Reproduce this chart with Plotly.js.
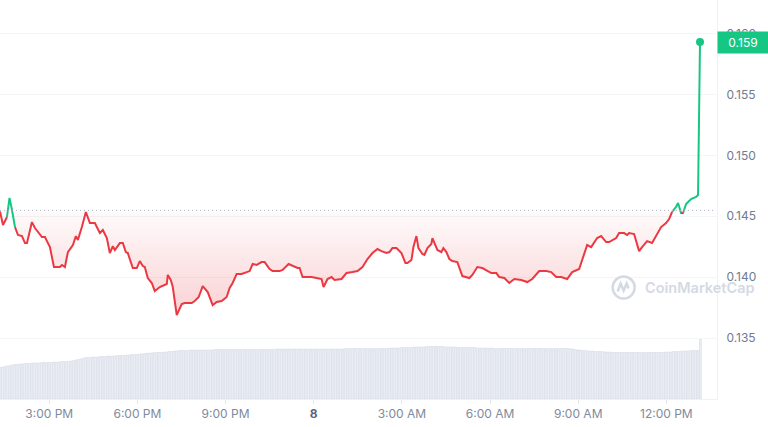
<!DOCTYPE html>
<html>
<head>
<meta charset="utf-8">
<script src="https://cdn.plot.ly/plotly-3.0.1.min.js"></script>
<style>
  html, body { margin: 0; padding: 0; background: #ffffff; }
  #chart { width: 768px; height: 427px; }
</style>
</head>
<body>
<div id="chart"></div>
<script>
// Time in hours since midnight of day 7 (24 = midnight, day 8)
const hours = [
  13.325,13.427,13.563,13.648,13.733,13.835,13.937,14.073,14.175,14.243,
  14.412,14.514,14.616,14.752,14.854,15.024,15.160,15.364,15.432,15.534,
  15.636,15.806,15.907,15.975,16.111,16.247,16.383,16.553,16.723,16.825,
  16.961,17.063,17.165,17.233,17.403,17.505,17.606,17.674,17.844,17.980,
  18.082,18.184,18.252,18.354,18.490,18.592,18.762,18.864,19.000,19.034,
  19.136,19.204,19.339,19.509,19.611,19.849,19.951,20.087,20.223,20.393,
  20.563,20.699,20.869,21.038,21.140,21.242,21.378,21.548,21.718,21.820,
  21.922,22.058,22.228,22.330,22.500,22.602,22.839,22.941,23.145,23.281,
  23.451,23.519,23.621,23.757,23.927,24.097,24.267,24.335,24.470,24.606,
  24.708,24.946,25.116,25.320,25.490,25.660,25.830,26.000,26.169,26.305,
  26.475,26.577,26.679,26.815,26.985,27.121,27.189,27.325,27.393,27.495,
  27.563,27.699,27.767,27.869,28.004,28.038,28.140,28.208,28.344,28.412,
  28.514,28.616,28.718,28.888,29.058,29.296,29.398,29.567,29.737,29.873,
  30.043,30.213,30.315,30.485,30.655,30.825,31.063,31.266,31.436,31.674,
  31.912,32.082,32.252,32.422,32.626,32.796,33.033,33.135,33.305,33.441,
  33.645,33.781,33.951,34.053,34.291,34.393,34.563,34.664,34.732,34.902,
  35.072,35.174,35.344,35.514,35.650,35.820,35.990,36.092,36.194,36.330,
  36.398,36.500,36.568,36.670,36.840,37.010,37.078,37.145
];
const prices = [
  0.14540,0.14428,0.14494,0.14650,0.14551,0.14411,0.14346,0.14337,0.14280,0.14280,
  0.14452,0.14403,0.14370,0.14329,0.14329,0.14247,0.14083,0.14083,0.14100,0.14083,
  0.14206,0.14264,0.14337,0.14305,0.14411,0.14535,0.14444,0.14444,0.14362,0.14387,
  0.14321,0.14198,0.14255,0.14223,0.14280,0.14280,0.14206,0.14198,0.14075,0.14075,
  0.14132,0.14091,0.14083,0.13993,0.13952,0.13886,0.13919,0.13927,0.13944,0.14018,
  0.13977,0.13919,0.13689,0.13779,0.13788,0.13788,0.13804,0.13837,0.13927,0.13878,
  0.13771,0.13796,0.13804,0.13837,0.13911,0.13952,0.14026,0.14026,0.14042,0.14050,
  0.14108,0.14100,0.14124,0.14124,0.14067,0.14050,0.14050,0.14059,0.14108,0.14091,
  0.14075,0.14075,0.14001,0.14001,0.14001,0.13993,0.13985,0.13919,0.13985,0.14001,
  0.13977,0.13985,0.14034,0.14042,0.14050,0.14083,0.14149,0.14198,0.14231,0.14214,
  0.14198,0.14206,0.14239,0.14239,0.14198,0.14116,0.14116,0.14141,0.14247,0.14337,
  0.14239,0.14190,0.14182,0.14239,0.14272,0.14321,0.14255,0.14223,0.14206,0.14239,
  0.14206,0.14149,0.14132,0.14124,0.14009,0.13993,0.14018,0.14083,0.14075,0.14059,
  0.14034,0.14034,0.14001,0.13993,0.13952,0.13985,0.13977,0.13960,0.13985,0.14050,
  0.14050,0.14042,0.14001,0.14001,0.13985,0.14042,0.14067,0.14141,0.14264,0.14247,
  0.14321,0.14337,0.14288,0.14288,0.14321,0.14362,0.14362,0.14346,0.14362,0.14354,
  0.14214,0.14247,0.14296,0.14280,0.14337,0.14411,0.14444,0.14477,0.14535,0.14576,
  0.14609,0.14526,0.14526,0.14600,0.14641,0.14658,0.14674,0.15930
];
const baseline = 0.14548;      // opening price (dotted reference line)
const lastLabel = "0.159";

// Volume bars (millions), 5-minute buckets
const volStart = 13.325;
const volStep = 1 / 12;
const volumes = [
  63,64,65,66,67,68,
  69,69,70,70,71,71,
  71,72,72,72,72,73,73,73,73,
  73,74,74,74,75,75,75,
  75,76,77,78,79,
  80,82,83,
  83,83,84,84,84,85,85,85,86,86,86,86,87,87,87,
  87,88,88,89,
  89,89,90,90,91,91,92,92,93,93,
  93,93,94,94,95,95,96,96,97,97,
  97,97,97,98,98,98,98,98,98,98,98,98,98,99,99,99,99,99,99,99,99,99,99,
  99,99,99,99,99,99,99,99,99,99,99,99,99,99,99,100,100,100,100,100,
  100,100,100,100,100,100,100,100,100,100,100,100,100,100,100,100,100,100,100,100,
  100,100,100,101,101,101,101,101,101,101,101,101,101,101,101,101,101,101,101,
  101,101,102,102,102,102,102,103,103,103,103,103,104,104,104,104,104,105,105,105,105,105,
  105,105,105,104,104,104,104,104,103,103,103,103,
  103,103,103,103,102,102,102,102,102,102,102,101,101,101,101,101,101,101,101,101,
  101,101,101,101,101,101,101,101,101,101,101,101,101,101,101,101,101,101,101,101,101,101,
  100,100,99,98,98,97,97,96,96,96,95,95,95,
  95,94,94,94,93,93,
  93,93,93,93,93,93,93,93,93,93,93,93,93,93,93,93,93,93,
  93,93,94,94,94,95,95,95,95,96,96,96,97,97,97,
  97,119
];

const tickVals = [15, 18, 21, 24, 27, 30, 33, 36];
const tickText = ["3:00 PM", "6:00 PM", "9:00 PM",
  "<span style='color:#58667e;font-weight:bold'>8</span>",
  "3:00 AM", "6:00 AM", "9:00 AM", "12:00 PM"];
const yTickVals = [0.135, 0.140, 0.145, 0.150, 0.155, 0.160];
const yTickText = ["0.135", "0.140", "0.145", "0.150", "0.155", "0.160"];

const RED = "#ea3943";
const GREEN = "#16c784";
const n = prices.length;

const above = prices.map(p => p > baseline);
const greenY = prices.map((p, i) =>
  (above[i] || (i > 0 && above[i - 1]) || (i < n - 1 && above[i + 1])) ? p : null);
const redY = prices.map(p => (p <= baseline ? p : null));
const fillY = prices.map(p => Math.min(p, baseline));
const baseY = prices.map(() => baseline);

const traces = [
  { type: "bar", x0: volStart, dx: volStep, y: volumes, yaxis: "y2",
    marker: { color: "#eef1f6", line: { color: "#d3d9e4", width: 0.6 } },
    hoverinfo: "skip" },
  { type: "scatter", mode: "lines", x: hours, y: baseY,
    line: { width: 0, color: "rgba(0,0,0,0)" }, hoverinfo: "skip" },
  { type: "scatter", mode: "lines", x: hours, y: fillY, fill: "tonexty",
    line: { width: 0, color: "rgba(0,0,0,0)" },
    fillgradient: { type: "vertical", start: 0.1365, stop: baseline,
      colorscale: [[0, "rgba(234,57,67,0.24)"], [1, "rgba(234,57,67,0.02)"]] },
    hoverinfo: "skip" },
  { type: "scatter", mode: "lines", x: hours, y: greenY, connectgaps: false,
    line: { color: GREEN, width: 2 }, hoverinfo: "skip" },
  { type: "scatter", mode: "lines", x: hours, y: redY, connectgaps: false,
    line: { color: RED, width: 2 }, hoverinfo: "skip" },
  { type: "scatter", mode: "markers", x: [hours[n - 1]], y: [prices[n - 1]],
    marker: { color: GREEN, size: 8 }, hoverinfo: "skip" }
];

const layout = {
  width: 768, height: 427,
  margin: { l: 0, r: 51, t: 0, b: 28, pad: 0 },
  paper_bgcolor: "#ffffff", plot_bgcolor: "#ffffff",
  showlegend: false,
  bargap: 0.25,
  font: { family: "Inter, 'Noto Sans', sans-serif", color: "#808a9d" },
  xaxis: {
    range: [13.325, 37.723], tickmode: "array", tickvals: tickVals, ticktext: tickText,
    showgrid: false, zeroline: false, showline: true, linecolor: "#eff2f5", linewidth: 1,
    ticks: "outside", ticklen: 4, tickcolor: "#e3e7ee", tickwidth: 1,
    tickfont: { family: "Inter, sans-serif", size: 12, color: "#808a9d" },
    fixedrange: true
  },
  yaxis: {
    range: [0.130, 0.16275], side: "right", tickmode: "array",
    tickvals: yTickVals, ticktext: yTickText,
    showgrid: true, gridcolor: "#f3f5f8", gridwidth: 1, zeroline: false,
    showline: true, linecolor: "#eff2f5", linewidth: 1,
    ticks: "", ticklabelstandoff: 6,
    tickfont: { family: "Inter, sans-serif", size: 12, color: "#6f7b90" },
    fixedrange: true
  },
  yaxis2: { overlaying: "y", range: [0, 798], visible: false, fixedrange: true },
  shapes: [
    { type: "line", xref: "paper", yref: "y", x0: 0, x1: 0.995, y0: baseline, y1: baseline,
      line: { color: "#a9b2c2", width: 1, dash: "1px,3px" }, layer: "above" },
    { type: "circle", xref: "paper", yref: "paper", xsizemode: "pixel", ysizemode: "pixel",
      xanchor: 0.8698, yanchor: 0.2794, x0: -11, x1: 11, y0: -11, y1: 11,
      line: { color: "#d4dae4", width: 2.5 }, layer: "above" },
    { type: "path", xref: "paper", yref: "paper", xsizemode: "pixel", ysizemode: "pixel",
      xanchor: 0.8698, yanchor: 0.2794,
      path: "M -6,-4 L -3,4 L 0,-3 L 3,4 L 5,-1",
      line: { color: "#d4dae4", width: 2.5 }, layer: "above" }
  ],
  annotations: [
    { xref: "paper", yref: "paper", x: 0.897, y: 0.2794, xanchor: "left", yanchor: "middle",
      text: "CoinMarketCap", showarrow: false,
      font: { family: "Inter, sans-serif", size: 14.5, weight: 600, color: "#d4dae4" } },
    { xref: "paper", yref: "y", x: 1, y: prices[n - 1], xanchor: "left", yanchor: "middle",
      text: lastLabel, showarrow: false, bgcolor: GREEN, width: 44, borderpad: 3,
      align: "center", font: { family: "Inter, sans-serif", size: 12, color: "#ffffff" } }
  ]
};

Plotly.newPlot("chart", traces, layout, { displayModeBar: false, staticPlot: true });
</script>
</body>
</html>
